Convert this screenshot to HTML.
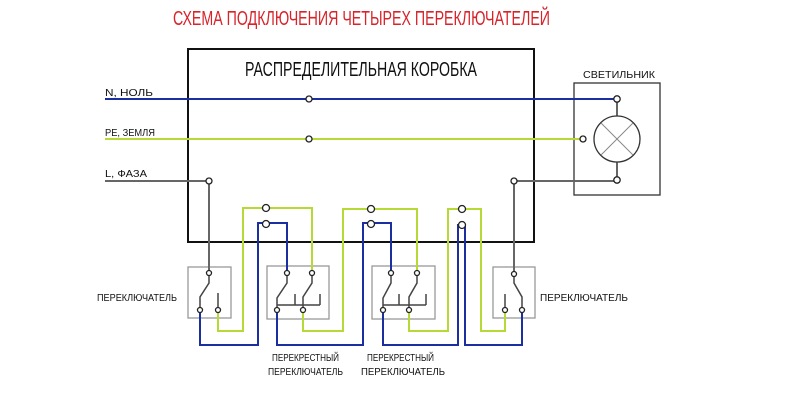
<!DOCTYPE html>
<html><head><meta charset="utf-8"><style>html,body{margin:0;padding:0;background:#fff;width:800px;height:415px;overflow:hidden}</style></head><body>
<svg width="800" height="415" viewBox="0 0 800 415" xmlns="http://www.w3.org/2000/svg" font-family="Liberation Sans, sans-serif">
<text x="173" y="25" font-size="20" fill="#d8232a" textLength="377" lengthAdjust="spacingAndGlyphs">СХЕМА ПОДКЛЮЧЕНИЯ ЧЕТЫРЕХ ПЕРЕКЛЮЧАТЕЛЕЙ</text>
<rect x="188" y="49" width="346" height="193" fill="none" stroke="#111" stroke-width="2"/>
<text x="245" y="76" font-size="20" fill="#111" textLength="232" lengthAdjust="spacingAndGlyphs">РАСПРЕДЕЛИТЕЛЬНАЯ КОРОБКА</text>
<g font-size="10" fill="#111">
<text x="105" y="96" textLength="48" lengthAdjust="spacingAndGlyphs">N, НОЛЬ</text>
<text x="105" y="136" textLength="50" lengthAdjust="spacingAndGlyphs">PE, ЗЕМЛЯ</text>
<text x="105" y="177" textLength="42" lengthAdjust="spacingAndGlyphs">L, ФАЗА</text>
<text x="583" y="78" textLength="72" lengthAdjust="spacingAndGlyphs">СВЕТИЛЬНИК</text>
<text x="97" y="301" textLength="80" lengthAdjust="spacingAndGlyphs">ПЕРЕКЛЮЧАТЕЛЬ</text>
<text x="540" y="301" textLength="88" lengthAdjust="spacingAndGlyphs">ПЕРЕКЛЮЧАТЕЛЬ</text>
<text x="272" y="361" textLength="67" lengthAdjust="spacingAndGlyphs">ПЕРЕКРЕСТНЫЙ</text>
<text x="268" y="375" textLength="75" lengthAdjust="spacingAndGlyphs">ПЕРЕКЛЮЧАТЕЛЬ</text>
<text x="367" y="361" textLength="67" lengthAdjust="spacingAndGlyphs">ПЕРЕКРЕСТНЫЙ</text>
<text x="361" y="375" textLength="84" lengthAdjust="spacingAndGlyphs">ПЕРЕКЛЮЧАТЕЛЬ</text>
</g>
<!-- lamp -->
<rect x="574" y="83" width="86" height="112" fill="none" stroke="#333" stroke-width="1.3"/>
<line x1="617" y1="99" x2="617" y2="180" stroke="#333" stroke-width="1.5"/>
<circle cx="617" cy="139" r="23" fill="#fff" stroke="#333" stroke-width="1.3"/>
<line x1="601" y1="123" x2="633" y2="155" stroke="#888"/><line x1="633" y1="123" x2="601" y2="155" stroke="#888"/>
<!-- switch boxes -->
<g fill="none" stroke="#999" stroke-width="1.3">
<rect x="188" y="267" width="43" height="51"/><rect x="267" y="266" width="62" height="53"/><rect x="372" y="266" width="63" height="53"/><rect x="493" y="267" width="42" height="51"/>
</g>
<g fill="none" stroke-width="2">
<polyline stroke="#1c2fa0" points="105,99 617,99"/>
<polyline stroke="#b5d935" points="105,139 583,139"/>
<polyline stroke="#666" points="105,181 209,181 209,273"/>
<polyline stroke="#666" points="617,181 514,181 514,274"/>
<!-- yellow -->
<polyline stroke="#b5d935" points="218,310 218,331 243,331 243,208 312,208 312,273"/>
<polyline stroke="#b5d935" points="303,310 303,331 343,331 343,209 417,209 417,273"/>
<polyline stroke="#b5d935" points="409,310 409,331 448,331 448,209 481,209 481,331 505,331 505,310"/>
<!-- blue -->
<polyline stroke="#1c2fa0" points="200,310 200,345 258,345 258,223 287,223 287,273"/>
<polyline stroke="#1c2fa0" points="277,310 277,345 363,345 363,223 391,223 391,273"/>
<polyline stroke="#1c2fa0" points="383,310 383,345 458,345 458,225 465,225 465,345 522,345 522,310"/>
</g>
<!-- switch internals -->
<g fill="none" stroke="#444" stroke-width="1.5">
<polyline points="209,273 209,283 200,297 200,310"/><line x1="218" y1="293" x2="218" y2="310"/>
<polyline points="514,274 514,283 522,297 522,310"/><line x1="505" y1="294" x2="505" y2="310"/>
<polyline points="287,273 287,283 277,298 277,310"/><polyline points="312,273 312,283 303,297 303,310"/>
<polyline points="295,294 295,305"/><line x1="277" y1="305" x2="320" y2="305"/><line x1="320" y1="294" x2="320" y2="305"/>
<polyline points="391,273 391,283 383,298 383,310"/><polyline points="417,273 417,283 409,297 409,310"/>
<polyline points="399,294 399,305"/><line x1="383" y1="305" x2="426" y2="305"/><line x1="426" y1="294" x2="426" y2="305"/>
</g>
<!-- nodes -->
<g fill="#fff" stroke="#222" stroke-width="1.3">
<circle cx="309" cy="99" r="3"/><circle cx="309" cy="139" r="3"/><circle cx="209" cy="181" r="3"/><circle cx="514" cy="181" r="3"/>
<circle cx="617" cy="99" r="3.2"/><circle cx="617" cy="180" r="3.2"/><circle cx="583" cy="139" r="3"/>
<circle cx="266" cy="208" r="3.5"/><circle cx="371" cy="209" r="3.5"/><circle cx="462" cy="209" r="3.5"/>
<circle cx="266" cy="224" r="3.5"/><circle cx="371" cy="224" r="3.5"/><circle cx="462" cy="225" r="3.5"/>
<circle cx="209" cy="273" r="2.5"/><circle cx="200" cy="310" r="2.5"/><circle cx="218" cy="310" r="2.5"/>
<circle cx="287" cy="273" r="2.5"/><circle cx="312" cy="273" r="2.5"/><circle cx="277" cy="310" r="2.5"/><circle cx="303" cy="310" r="2.5"/>
<circle cx="391" cy="273" r="2.5"/><circle cx="417" cy="273" r="2.5"/><circle cx="383" cy="310" r="2.5"/><circle cx="409" cy="310" r="2.5"/>
<circle cx="514" cy="274" r="2.5"/><circle cx="505" cy="310" r="2.5"/><circle cx="522" cy="310" r="2.5"/>
</g>
</svg>
</body></html>
